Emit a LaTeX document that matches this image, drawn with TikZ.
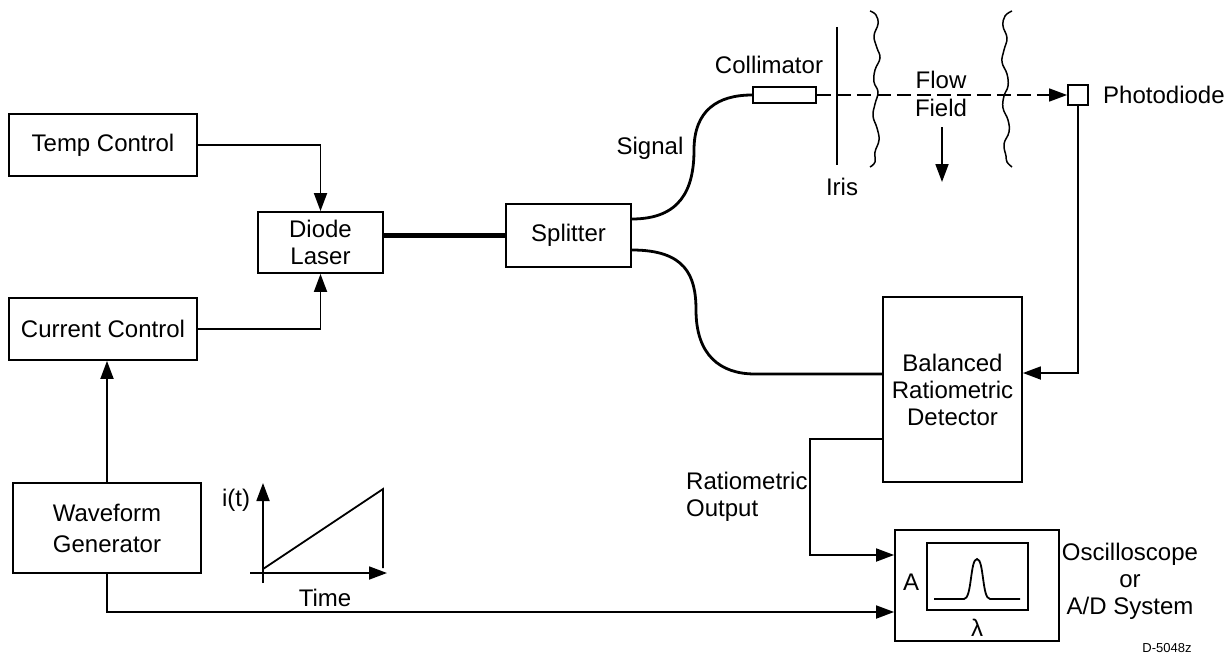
\documentclass[tikz,border=0pt]{standalone}
\usepackage{fontspec}
\setmainfont{Liberation Sans}
\usetikzlibrary{arrows.meta,calc}
\begin{document}
\begin{tikzpicture}[x=1pt,y=-1pt,
  txt/.style={font=\fontsize{24}{27}\selectfont, inner sep=0pt, align=center},
  blk/.style={txt, draw, line width=1.8pt},
  arr/.style={-{Triangle[length=18pt,width=13pt]}, line width=1.8pt},
  fiber/.style={line width=2.8pt},
  laser/.style={line width=4.5pt},
  beam/.style={-{Triangle[length=18pt,width=13pt]}, line width=1.6pt, dash pattern=on 14pt off 6pt},
  wavy/.style={line width=1.5pt},
  plain/.style={line width=1.8pt}]
\useasboundingbox (0,0) rectangle (1230,658);

% blocks
\node[blk, minimum width=188pt, minimum height=62pt] (temp) at (103,145) {Temp Control};
\node[blk, minimum width=188pt, minimum height=62pt] (cur) at (103,329) {Current Control};
\node[blk, minimum width=125pt, minimum height=61pt] (diode) at (320.5,242.5) {Diode\\Laser};
\node[blk, minimum width=125pt, minimum height=63pt] (split) at (568.5,235.5) {Splitter};
\node[blk, minimum width=188pt, minimum height=90pt] (wave) at (107,528) {Waveform\\[4pt]Generator};
\node[blk, minimum width=139pt, minimum height=185pt] (det) at (952.5,389.5) {Balanced\\Ratiometric\\Detector};
\node[blk, minimum width=164pt, minimum height=111pt] (osc) at (977,585.5) {};
\node[draw, line width=1.8pt, minimum width=101pt, minimum height=67pt, inner sep=0pt] (scr) at (977.5,576.5) {};
\node[draw, line width=1.8pt, minimum width=63pt, minimum height=16pt, inner sep=0pt] (coll) at (784.5,95) {};
\node[draw, line width=1.8pt, minimum width=20pt, minimum height=20pt, inner sep=0pt] (pd) at (1078,95) {};

% labels
\node[txt] (lcoll) at (769,65) {Collimator};
\node[txt] (liris) at (842,187) {Iris};
\node[txt, font=\fontsize{24}{28}\selectfont] (lflow) at (941,94) {Flow\\Field};
\node[txt, anchor=west] (lpd) at (1103,95) {Photodiode};
\node[txt] (lsig) at (650,148) {Signal};
\node[txt] (lit) at (236,500) {i(t)};
\node[txt] (ltime) at (325,598) {Time};
\node[txt, anchor=west, align=left] (lrat) at (686,497) {Ratiometric\\Output};
\node[txt] (losc) at (1130,581) {Oscilloscope\\or\\A/D System};
\node[txt] (lA) at (911,582) {A};
\node[txt] (llam) at (977,628) {λ};
\node[txt, font=\fontsize{13}{15}\selectfont] (ldn) at (1167,648) {D-5048z};

% electrical connectors
\draw[arr] (temp.east) -| (diode.north);
\draw[arr] (cur.east) -| (diode.south);
\draw[arr] (wave.north) -- (wave.north |- cur.south);
\draw[arr] (wave.south) |- ([yshift=-26.5pt]osc.west);
\draw[arr] ([yshift=-49.5pt]det.west) -- ++(-72,0) |- ([yshift=30.5pt]osc.west);
\draw[arr] (pd.south) |- ([yshift=16.5pt]det.east);

% optical paths
\draw[laser] (split.west) -- (split.west -| diode.east);
\draw[fiber] ([yshift=16.5pt]split.east) .. controls (680,219) and (694,190) .. (694,150)
  .. controls (694,110) and (718,95) .. (coll.west);
\draw[fiber] ([yshift=-14.5pt]split.east) .. controls (685,250) and (696,275) .. (696,310)
  .. controls (696,355) and (720,374) .. (755,374) -- ([yshift=15.5pt]det.west);
\draw[beam] (coll.east) -- (pd.west);

% iris, flow field
\draw[plain] (837,27) -- (837,165);
\draw[wavy] plot[smooth, tension=0.7] coordinates {(870,11) (876,15) (878,24) (874,36) (877,48) (880,58) (875,70) (874,82) (878,92) (875,104) (873,116) (877,128) (879,140) (875,152) (875,162) (870,167)};
\draw[wavy] plot[smooth, tension=0.7] coordinates {(1012,11) (1005,16) (1003,26) (1007,38) (1004,50) (1002,62) (1007,74) (1008,86) (1004,96) (1003,108) (1008,120) (1009,132) (1004,144) (1006,156) (1007,162) (1012,167)};
\draw[arr] (942,127) -- (942,182);

% ramp graph
\draw[arr] (250,573) -- (387,573);
\draw[arr] (263,583) -- (263,483);
\draw[plain] (263,569) -- (383,489) -- (383,568);

% peak on screen
\draw[plain] (934,599) -- (964,599) .. controls (972,599) and (970,559) .. (977,559)
  .. controls (984,559) and (982,599) .. (990,599) -- (1020,599);
\end{tikzpicture}
\end{document}
